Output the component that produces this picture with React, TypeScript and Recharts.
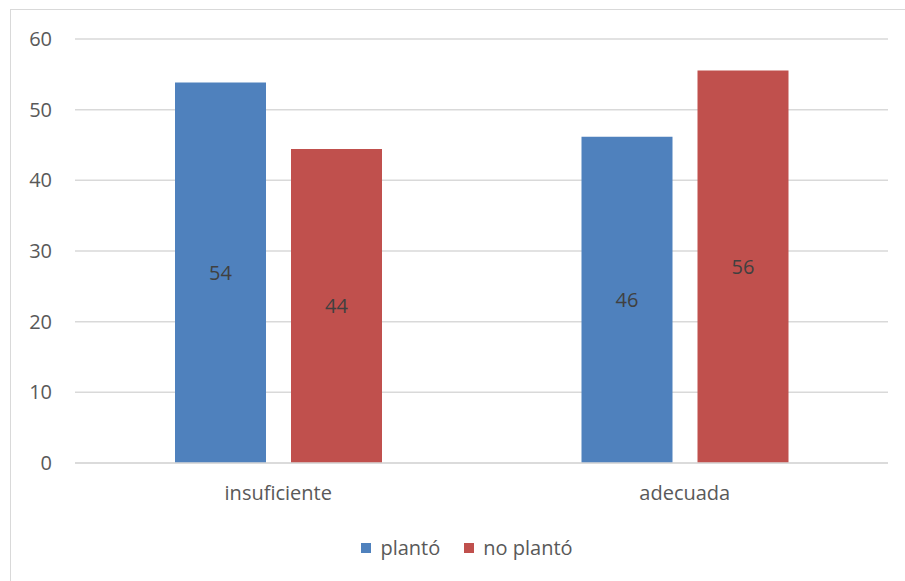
import { BarChart, Bar, XAxis, YAxis, CartesianGrid, LabelList } from "recharts";

const categories = ["insuficiente", "adecuada"];
const planto = [53.85, 46.15];
const noPlanto = [44.44, 55.56];
const yTicks = [0, 10, 20, 30, 40, 50, 60];

const series = [
  { key: "planto", name: "plantó", color: "#4f81bd" },
  { key: "noPlanto", name: "no plantó", color: "#c0504d" },
];

const data = categories.map((name, i) => ({ name, planto: planto[i], noPlanto: noPlanto[i] }));

const FONT = "'Open Sans', 'Noto Sans', sans-serif";
const TEXT = "#595959";
const SIZE = 20;

export default function App() {
  return (
    <div style={{ position: "fixed", left: 0, top: 0, width: 905, height: 581, overflow: "hidden", background: "#fff", fontFamily: FONT }}>
      {/* outer frame runs past the right and bottom edges */}
      <div
        style={{
          position: "absolute",
          left: 10,
          top: 9,
          width: 920,
          height: 600,
          border: "1.5px solid #d9d9d9",
        }}
      />
      <BarChart
        width={905}
        height={581}
        data={data}
        margin={{ top: 39, right: 17, left: 0, bottom: 88 }}
        barCategoryGap="24.5%"
        barGap={25}
        style={{ position: "absolute", left: 0, top: 0 }}
      >
        <CartesianGrid vertical={false} stroke="#d9d9d9" strokeWidth={1.5} />
        <XAxis
          dataKey="name"
          height={30}
          axisLine={{ stroke: "#d9d9d9", strokeWidth: 1.5 }}
          tickLine={false}
          tickSize={0}
          tickMargin={23}
          tick={{ fill: TEXT, fontSize: SIZE, fontFamily: FONT }}
        />
        <YAxis
          width={75}
          domain={[0, 60]}
          ticks={yTicks}
          axisLine={false}
          tickLine={false}
          tickSize={0}
          tickMargin={23}
          tick={{ fill: TEXT, fontSize: SIZE, fontFamily: FONT }}
        />
        {series.map((s) => (
          <Bar key={s.key} dataKey={s.key} name={s.name} fill={s.color} barSize={91} isAnimationActive={false}>
            <LabelList
              dataKey={s.key}
              position="center"
              fill="#404040"
              fontSize={SIZE}
              fontFamily={FONT}
              formatter={(v) => Math.round(Number(v))}
            />
          </Bar>
        ))}
      </BarChart>
      {/* legend */}
      <div
        style={{
          position: "absolute",
          left: 0,
          top: 534,
          width: 934,
          display: "flex",
          justifyContent: "center",
          gap: 24,
          fontSize: SIZE,
          color: TEXT,
          lineHeight: "28px",
        }}
      >
        {series.map((s) => (
          <span key={s.key} style={{ display: "flex", alignItems: "center" }}>
            <span style={{ width: 10, height: 10, background: s.color, marginRight: 9, display: "inline-block" }} />
            {s.name}
          </span>
        ))}
      </div>
    </div>
  );
}
